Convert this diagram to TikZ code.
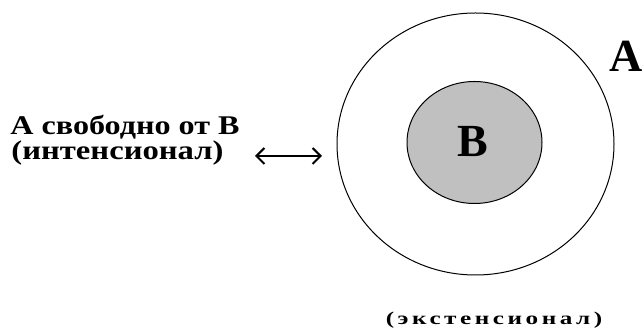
\documentclass[tikz,border=0pt]{standalone}
\usepackage{graphicx}
\usepackage{fontspec}
\setmainfont{Liberation Serif}
\usetikzlibrary{arrows.meta}
\definecolor{setgray}{RGB}{192,192,192}
\tikzset{
  lbl/.style={font=\bfseries\fontsize{27}{30}\selectfont, inner sep=0pt, anchor=base},
  big/.style={font=\bfseries\fontsize{46}{50}\selectfont, inner sep=0pt},
  setline/.style={line width=1pt, draw=black},
  barb/.tip={Straight Barb[length=8pt,width=16pt,line width=2pt]},
}
\begin{document}
\begin{tikzpicture}[x=1pt,y=1pt]
\useasboundingbox (0,0) rectangle (643,334);
\draw[setline] (475.5,190) ellipse [x radius=138.5, y radius=131];
\draw[setline, fill=setgray] (474.5,191.5) ellipse [x radius=67.5, y radius=61];
\node[big] (B) at (472.5,192) {B};
\node[big] (A) at (626.5,278) {A};
\node[lbl] (l1) at (125,199) {\scalebox{1.19}[1]{A свободно от B}};
\node[lbl] (l2) at (117.5,174) {\scalebox{1.21}[1]{(интенсионал)}};
\coordinate (al) at (255,178);
\coordinate (ar) at (322,178);
\draw[line width=1.6pt, barb-barb] (al) -- (ar);
\node[lbl, font=\bfseries\fontsize{18}{20}\selectfont] (l3) at (494,9) {\scalebox{1.4}[1]{\addfontfeature{LetterSpace=14}(экстенсионал)}};
\end{tikzpicture}
\end{document}
